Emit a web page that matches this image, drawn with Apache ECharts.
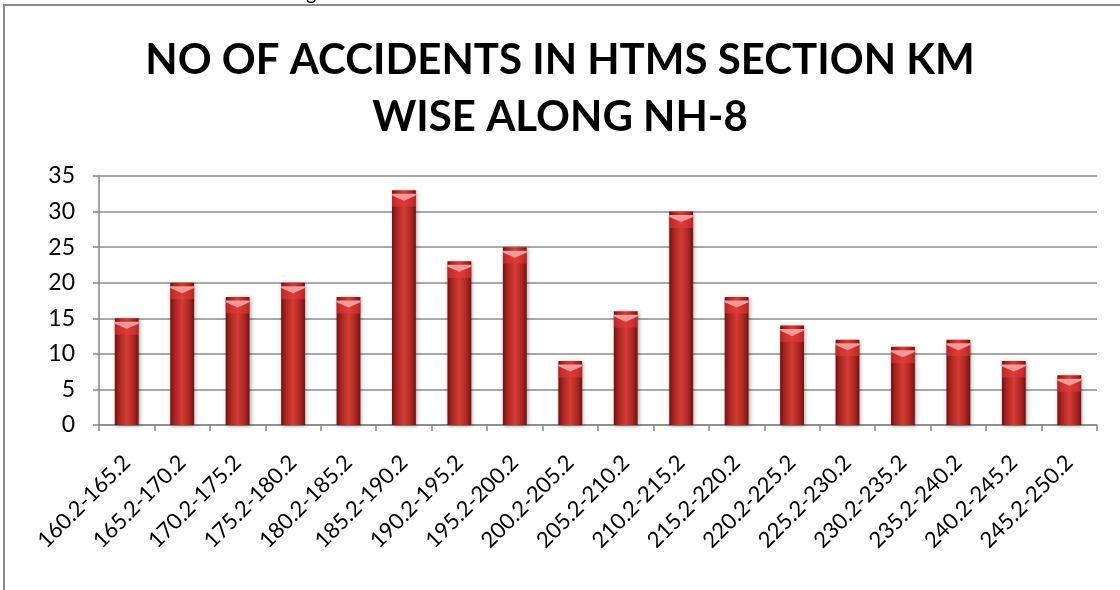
<!DOCTYPE html>
<html>
<head>
<meta charset="utf-8">
<script src="https://cdn.jsdelivr.net/npm/echarts@6/dist/echarts.min.js"></script>
<style>
html,body{margin:0;padding:0;background:#fff;}
#chart{width:1120px;height:590px;}
</style>
</head>
<body>
<div id="chart"></div>
<script>
const categories = ["160.2-165.2","165.2-170.2","170.2-175.2","175.2-180.2","180.2-185.2","185.2-190.2","190.2-195.2","195.2-200.2","200.2-205.2","205.2-210.2","210.2-215.2","215.2-220.2","220.2-225.2","225.2-230.2","230.2-235.2","235.2-240.2","240.2-245.2","245.2-250.2"];
const accidents = [15,20,18,20,18,33,23,25,9,16,30,18,14,12,11,12,9,7];
const yTicks = [0,5,10,15,20,25,30,35];
const titleText = "NO OF ACCIDENTS IN HTMS SECTION KM\nWISE ALONG NH-8";
const captionText = "Figure 5.5: Location wise distribution of accidents in HTMS section";

const chart = echarts.init(document.getElementById('chart'), null, {renderer:'canvas'});
const font = 'Lato, "Open Sans", sans-serif';
const barFill = new echarts.graphic.LinearGradient(0,0,1,0,[
  {offset:0,color:'#6e1212'},
  {offset:0.18,color:'#a82420'},
  {offset:0.5,color:'#d23c33'},
  {offset:0.82,color:'#a82420'},
  {offset:1,color:'#6e1212'}
]);
chart.setOption({
  animation:false,
  backgroundColor:'#fff',
  title:{
    text:titleText,
    left:'center', top:27,
    textStyle:{fontFamily:font,fontWeight:'bold',fontSize:42,color:'#000',lineHeight:57}
  },
  graphic:[
    {type:'rect',shape:{x:4,y:5,width:1130,height:600},style:{fill:'none',stroke:'#8a8a8a',lineWidth:2},z:-1},
    {type:'text',left:290,top:-16,style:{text:captionText,fontFamily:font,fontSize:20,fill:'#000'}}
  ],
  grid:{left:99,right:23,top:176,bottom:165,containLabel:false},
  xAxis:{
    type:'category',
    data:categories,
    axisLine:{lineStyle:{color:'#868686',width:1.5}},
    axisTick:{show:true,length:6,alignWithLabel:false,lineStyle:{color:'#868686',width:1.5}},
    axisLabel:{rotate:45,fontFamily:font,fontSize:22,color:'#000',margin:34,interval:0}
  },
  yAxis:{
    type:'value',min:0,max:35,interval:5,
    axisLine:{show:true,lineStyle:{color:'#868686',width:1.5}},
    axisTick:{show:true,length:6,lineStyle:{color:'#868686',width:1.5}},
    splitLine:{lineStyle:{color:'#8c8c8c',width:1.5}},
    axisLabel:{fontFamily:font,fontSize:23,color:'#000',margin:24,
      formatter:function(v){return yTicks.indexOf(v)>=0?String(v):'';}}
  },
  series:[
    {
      type:'bar',data:accidents,barWidth:'43%',
      itemStyle:{color:barFill,shadowColor:'rgba(0,0,0,0.35)',shadowBlur:4,shadowOffsetX:1,shadowOffsetY:1}
    },
    {
      type:'pictorialBar',data:accidents,barWidth:'43%',barGap:'-100%',
      symbol:'rect',
      symbolPosition:'end',symbolSize:['100%',11],symbolOffset:[0,'50%'],
      itemStyle:{color:'rgba(240,60,60,0.5)'},z:4
    },
    {
      type:'pictorialBar',data:accidents,barWidth:'43%',barGap:'-100%',
      symbol:'path://M0,0 L10,0 L10,1.2 L5,4.5 L0,1.2 Z',
      symbolPosition:'end',symbolSize:['100%',7],symbolOffset:[0,'50%'],
      itemStyle:{color:'#f29a9a'},z:5
    }
  ]
});
</script>
</body>
</html>
